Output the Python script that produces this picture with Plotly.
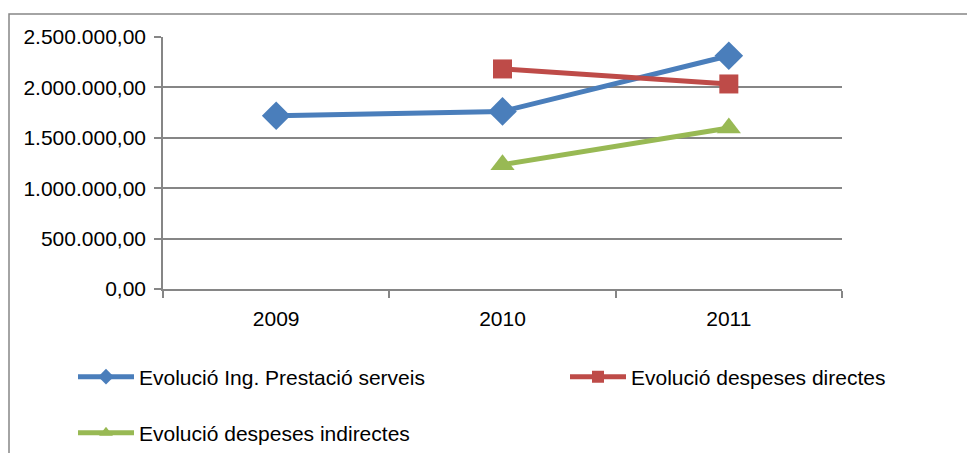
import plotly.graph_objects as go

years = ["2009", "2010", "2011"]
ing_prestacio = [1719000, 1762000, 2314000]
despeses_directes = [None, 2183000, 2034000]
despeses_indirectes = [None, 1233000, 1597000]

names = ["Evolució Ing. Prestació serveis", "Evolució despeses directes", "Evolució despeses indirectes"]
colors = ["#4A7EBB", "#BE4B48", "#98B954"]
symbols = ["diamond", "square", "triangle-up"]
sizes = [22, 19, 21]

# page has an 8px body margin; work in figure coordinates
OFF = 8
W, H = 975 - OFF, 453 - OFF
L, T = 163 - OFF, 37 - OFF
R = W - (842 - OFF)
B = H - (289 - OFF)
pw, ph = W - L - R, H - T - B
ITEMW = 56

fig = go.Figure()
series = [ing_prestacio, despeses_directes, despeses_indirectes]
legends = ["legend", "legend2", "legend3"]
for s, n, c, sym, sz, lg in zip(series, names, colors, symbols, sizes, legends):
    fig.add_trace(go.Scatter(
        x=years, y=s, name=n, mode="lines+markers",
        line=dict(color=c, width=5),
        marker=dict(symbol=sym, size=sz, color=c),
        legend=lg, showlegend=True,
    ))

font = dict(family="Liberation Sans, Arial, sans-serif", size=21, color="#000000")


def leg(px, py):
    # px, py: image coordinates of text start / row centre
    return dict(
        orientation="h", x=(px - OFF - (ITEMW + 11) - L) / pw, xanchor="left",
        y=(H - B - (py - OFF)) / ph, yanchor="middle",
        font=font, bgcolor="rgba(0,0,0,0)", itemsizing="constant", itemwidth=ITEMW,
    )


fig.update_layout(
    width=W, height=H,
    showlegend=True,
    margin=dict(l=L, r=R, t=T, b=B, autoexpand=False),
    paper_bgcolor="white", plot_bgcolor="white",
    font=font,
    separators=",.",
    xaxis=dict(
        type="category", range=[-0.5, 2.5],
        showgrid=False, showline=True, linecolor="#868686", linewidth=1.5,
        ticks="outside", tickson="boundaries", ticklen=7, tickcolor="#868686", tickwidth=1.5,
        ticklabelstandoff=10, tickfont=font,
    ),
    yaxis=dict(
        range=[0, 2500000], dtick=500000, tickformat=",.2f",
        showgrid=True, gridcolor="#868686", gridwidth=1.5,
        showline=True, linecolor="#868686", linewidth=1.5,
        ticks="outside", ticklen=7, tickcolor="#868686", tickwidth=1.5,
        ticklabelstandoff=4, tickfont=font, zeroline=False,
    ),
    legend=leg(140, 377),
    legend2=leg(632, 377),
    legend3=leg(140, 433),
    shapes=[dict(
        type="rect", xref="paper", yref="paper",
        x0=(9 - OFF - L) / pw, x1=(990 - OFF - L) / pw,
        y0=(H - B - (470 - OFF)) / ph, y1=(H - B - (14 - OFF)) / ph,
        line=dict(color="#868686", width=1.5), fillcolor="rgba(0,0,0,0)", layer="below",
    )],
)

fig.write_html("out.html")
